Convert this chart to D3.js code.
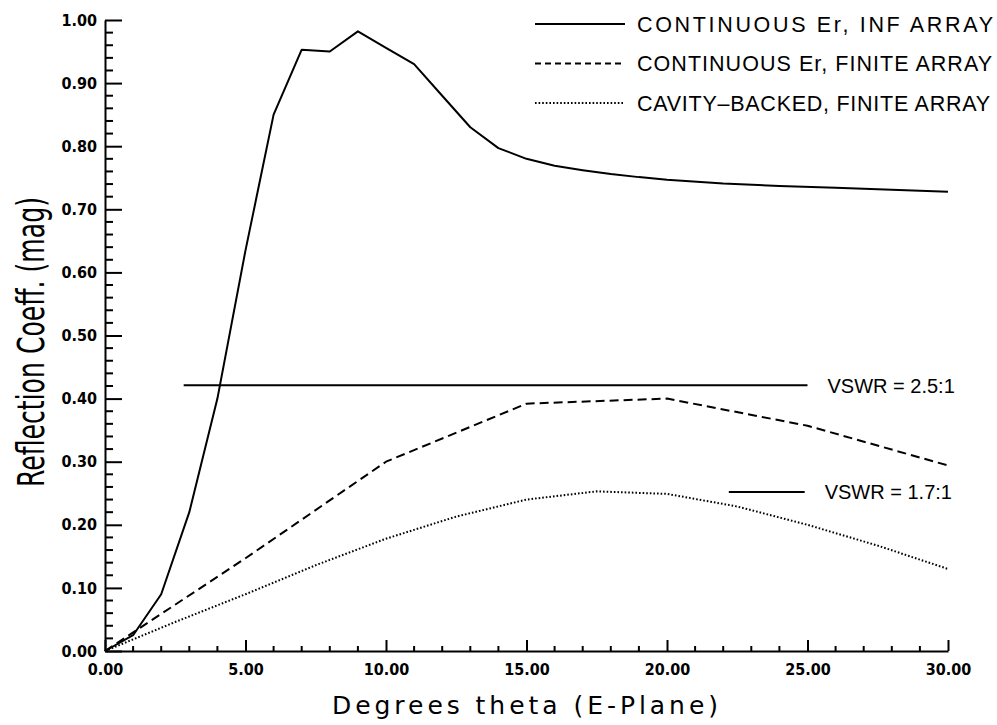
<!DOCTYPE html>
<html>
<head>
<meta charset="utf-8">
<script src="https://cdn.jsdelivr.net/npm/d3@7"></script>
<style>
  html, body { margin: 0; padding: 0; background: #fff; }
  svg { display: block; }
</style>
</head>
<body>
<svg id="chart" width="997" height="725"></svg>
<script>
// Reflection coefficient magnitude vs. E-plane scan angle

// Continuous Er, infinite array (solid)
const infAngles = [0, 1, 2, 3, 4, 5, 6, 7, 8, 9, 10, 11, 12, 13, 14, 15, 16, 17, 18, 19, 20, 22, 24, 26, 28, 30];
const infMag    = [0, 0.025, 0.09, 0.22, 0.40, 0.635, 0.85, 0.953, 0.95, 0.982, 0.956, 0.93, 0.88, 0.83, 0.797, 0.78, 0.769, 0.762, 0.756, 0.751, 0.747, 0.741, 0.737, 0.734, 0.731, 0.728];

// Continuous Er, finite array (dashed)
const finAngles = [0, 5, 10, 15, 20, 25, 30];
const finMag    = [0, 0.147, 0.30, 0.392, 0.40, 0.357, 0.294];

// Cavity-backed, finite array (dotted)
const cavAngles = [0, 2.5, 5, 7.5, 10, 12.5, 15, 17.5, 20, 22.5, 25, 27.5, 30];
const cavMag    = [0, 0.046, 0.09, 0.136, 0.178, 0.213, 0.24, 0.253, 0.249, 0.229, 0.20, 0.167, 0.13];

// VSWR reference levels
const vswrLabels = ["VSWR = 2.5:1", "VSWR = 1.7:1"];
const vswrMag    = [0.421, 0.252];
const vswrFrom   = [2.8, 22.2];
const vswrTo     = [25.0, 24.9];

// Legend entries
const legendLabels = ["CONTINUOUS  Er,  INF  ARRAY", "CONTINUOUS  Er,  FINITE  ARRAY", "CAVITY\u2013BACKED,  FINITE  ARRAY"];
const legendDash   = ["none", "6,4", "1.6,2"];

// Axis ticks
const xMajorTicks = [0, 5, 10, 15, 20, 25, 30];
const yMajorTicks = [0, 0.1, 0.2, 0.3, 0.4, 0.5, 0.6, 0.7, 0.8, 0.9, 1.0];

const svg = d3.select("#chart");

const x = d3.scaleLinear().domain([0, 30]).range([105, 948]);
const y = d3.scaleLinear().domain([0, 1]).range([651, 20]);

const tickFont = "'Liberation Sans Narrow', 'DejaVu Sans Condensed', Arial, sans-serif";

// ---- axes ----
const xMinor = d3.range(0, 31, 1).filter(v => v % 5 !== 0);
const yMinor = d3.range(0, 51, 1).map(v => v / 50).filter((v, i) => i % 5 !== 0);

// x axis (ticks pointing up into plot)
const xAxis = d3.axisBottom(x).tickValues(xMajorTicks).tickSize(0).tickPadding(0)
  .tickFormat(d3.format(".2f"));
const gx = svg.append("g").attr("transform", `translate(0,${y(0)})`).call(xAxis);
gx.select(".domain").attr("stroke", "#000").attr("stroke-width", 2);
gx.selectAll(".tick text")
  .attr("y", 24)
  .attr("dy", 0)
  .attr("font-family", tickFont)
  .attr("font-weight", "bold")
  .attr("font-size", 16)
  .attr("fill", "#000");
gx.selectAll(".tick line").remove();
gx.selectAll(".tick").append("line")
  .attr("y1", 0).attr("y2", -11).attr("stroke", "#000").attr("stroke-width", 2);
gx.selectAll(".minor").data(xMinor).enter().append("line")
  .attr("class", "minor")
  .attr("x1", d => x(d)).attr("x2", d => x(d))
  .attr("y1", 0).attr("y2", -5)
  .attr("stroke", "#000").attr("stroke-width", 2);

// y axis (ticks pointing right into plot)
const yAxis = d3.axisLeft(y).tickValues(yMajorTicks).tickSize(0).tickPadding(8)
  .tickFormat(d3.format(".2f"));
const gy = svg.append("g").attr("transform", `translate(${x(0)},0)`).call(yAxis);
gy.select(".domain").attr("stroke", "#000").attr("stroke-width", 2);
gy.selectAll(".tick text")
  .attr("font-family", tickFont)
  .attr("font-weight", "bold")
  .attr("font-size", 16)
  .attr("fill", "#000");
gy.selectAll(".tick line").remove();
gy.selectAll(".tick").append("line")
  .attr("x1", 0).attr("x2", 17).attr("stroke", "#000").attr("stroke-width", 2);
gy.selectAll(".minor").data(yMinor).enter().append("line")
  .attr("class", "minor")
  .attr("x1", 0).attr("x2", 8)
  .attr("y1", d => y(d)).attr("y2", d => y(d))
  .attr("stroke", "#000").attr("stroke-width", 2);

// ---- axis titles ----
svg.append("text")
  .attr("transform", "translate(44,342) rotate(-90)")
  .attr("text-anchor", "middle")
  .attr("font-family", tickFont)
  .attr("font-size", 37)
  .attr("textLength", 290)
  .attr("lengthAdjust", "spacingAndGlyphs")
  .attr("fill", "#000")
  .text("Reflection Coeff. (mag)");

svg.append("text")
  .attr("x", 525).attr("y", 714)
  .attr("text-anchor", "middle")
  .attr("font-family", "'DejaVu Sans', 'Open Sans', sans-serif")
  .attr("font-size", 25)
  .attr("textLength", 386)
  .attr("lengthAdjust", "spacing")
  .attr("fill", "#000")
  .text("Degrees theta (E-Plane)");

// ---- curves ----
const line = d3.line().x(d => x(d[0])).y(d => y(d[1]));
const series = [
  { pts: d3.zip(infAngles, infMag), dash: "none" },
  { pts: d3.zip(finAngles, finMag), dash: "9,5" },
  { pts: d3.zip(cavAngles, cavMag), dash: "1.6,2" }
];
svg.append("g").selectAll("path").data(series).enter().append("path")
  .attr("d", d => line(d.pts))
  .attr("fill", "none")
  .attr("stroke", "#000")
  .attr("stroke-width", 2)
  .attr("stroke-dasharray", d => d.dash)
  .attr("stroke-linejoin", "round");

// ---- VSWR reference lines ----
const vswr = d3.range(vswrLabels.length).map(i => ({
  label: vswrLabels[i], mag: vswrMag[i], from: vswrFrom[i], to: vswrTo[i]
}));
const gv = svg.append("g");
gv.selectAll("line").data(vswr).enter().append("line")
  .attr("x1", d => x(d.from)).attr("x2", d => x(d.to))
  .attr("y1", d => y(d.mag)).attr("y2", d => y(d.mag))
  .attr("stroke", "#000").attr("stroke-width", 2);
gv.selectAll("text").data(vswr).enter().append("text")
  .attr("x", d => x(d.to) + 20)
  .attr("y", d => y(d.mag))
  .attr("dy", "0.36em")
  .attr("font-family", "'Liberation Sans', Arial, sans-serif")
  .attr("font-size", 20)
  .attr("fill", "#000")
  .text(d => d.label);

// ---- legend ----
const lg = svg.append("g");
const rows = legendLabels.map((t, i) => ({ t, dash: legendDash[i], yy: 24 + i * 39.5 }));
lg.selectAll("line").data(rows).enter().append("line")
  .attr("x1", 535).attr("x2", 625)
  .attr("y1", d => d.yy).attr("y2", d => d.yy)
  .attr("stroke", "#000").attr("stroke-width", 2)
  .attr("stroke-dasharray", d => d.dash);
lg.selectAll("text").data(rows).enter().append("text")
  .attr("x", 637).attr("y", d => d.yy)
  .attr("dy", "0.36em")
  .attr("font-family", "'Liberation Sans', Arial, sans-serif")
  .attr("font-size", 21.5)
  .attr("textLength", (d, i) => [356, 355, 353][i])
  .attr("lengthAdjust", "spacing")
  .attr("fill", "#000")
  .text(d => d.t);
</script>
</body>
</html>
